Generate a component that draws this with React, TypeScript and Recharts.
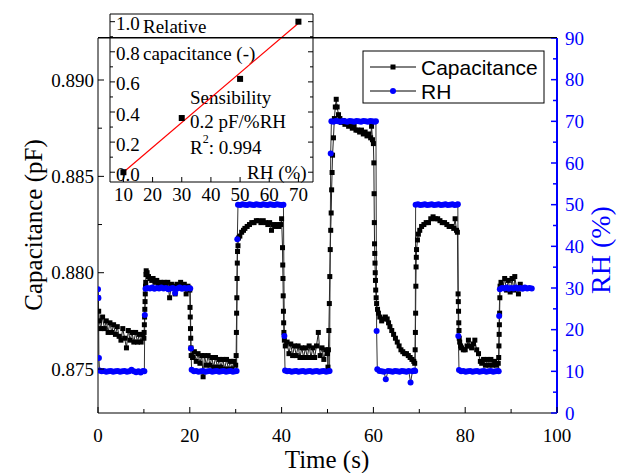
import React from "react";
import { ComposedChart, Line, Scatter, XAxis, YAxis } from "recharts";

// main chart: capacitance (pF) vs time (s)
const capTime = [
  0, 0.15, 0.3, 0.6, 1.0, 1.4, 1.8, 2.2, 2.6, 3.0, 3.4, 3.8, 4.2, 4.6, 5.0, 5.4, 5.8, 6.2, 6.6, 7.0,
  7.4, 7.8, 8.2, 8.6, 9.0, 9.4, 9.8, 10.0,
  10.05, 10.1, 10.15, 10.2, 10.25, 10.3, 10.35, 10.4, 10.45, 10.5, 10.7, 11.0, 11.3, 11.7, 12.0, 12.4,
  12.8, 13.2, 13.6, 14.0, 14.4, 14.8, 15.2, 15.6, 16.0, 16.4, 16.8, 17.2, 17.6, 18.0, 18.4, 18.8, 19.2,
  19.6, 19.9,
  20.0, 20.05, 20.1, 20.15, 20.2, 20.25, 20.3, 20.6, 21.0, 21.4, 21.8, 22.2, 22.6, 22.9, 23.2, 23.6,
  24.0, 24.4, 24.8, 25.2, 25.6, 26.0, 26.4, 26.8, 27.2, 27.6, 28.0, 28.4, 28.8, 29.2, 29.6, 30.0,
  30.1, 30.15, 30.2, 30.25, 30.3, 30.35, 30.4, 30.5, 30.6, 30.9, 31.3, 31.7, 32.0, 32.5, 33.0, 33.5,
  34.0, 34.5, 35.0, 35.5, 36.0, 36.5, 37.0, 37.4, 37.8, 38.2, 38.6, 39.0, 39.4, 39.8, 40.0,
  40.2, 40.25, 40.3, 40.35, 40.4, 40.45, 40.5, 40.6, 40.8, 41.2, 41.6, 42.0, 42.4, 42.8, 43.2, 43.6,
  44.0, 44.4, 44.8, 45.2, 45.6, 46.0, 46.4, 46.8, 47.2, 47.6, 48.0, 48.4, 48.8, 49.2, 49.6, 50.0,
  50.1, 50.2, 50.3, 50.4, 50.5, 50.6, 50.7, 50.8, 50.9, 51.0, 51.1, 51.3, 51.5, 51.7, 51.9, 52.1,
  52.4, 52.7, 53.0, 53.4, 53.8, 54.2, 54.6, 55.0, 55.4, 55.8, 56.2, 56.6, 57.0, 57.4, 57.8, 58.2,
  58.6, 59.0, 59.4, 59.6, 59.8, 60.0,
  60.1, 60.15, 60.2, 60.25, 60.3, 60.35, 60.4, 60.45, 60.5, 60.6, 60.7, 60.9, 61.1, 61.4, 61.8, 62.2,
  62.6, 63.0, 63.3, 63.6, 64.0, 64.4, 64.8, 65.2, 65.6, 66.0, 66.4, 66.8, 67.2, 67.6, 68.0, 68.4,
  68.8, 69.0,
  69.1, 69.15, 69.2, 69.25, 69.3, 69.35, 69.4, 69.6, 69.8, 70.1, 70.5, 71.0, 71.5, 72.0, 72.5, 73.0,
  73.5, 74.0, 74.5, 75.0, 75.5, 76.0, 76.5, 77.0, 77.5, 77.8, 78.1, 78.3,
  78.45, 78.5, 78.55, 78.6, 78.65, 78.7, 78.8, 79.0, 79.2, 79.6, 80.0, 80.4, 80.7, 81.0, 81.4, 81.8,
  82.1, 82.5, 82.9, 83.3, 83.6, 84.0, 84.4, 84.8, 85.2, 85.6, 86.0, 86.4, 86.8, 87.2,
  87.3, 87.35, 87.4, 87.45, 87.5, 87.55, 87.6, 87.8, 88.2, 88.6, 89.0, 89.4, 89.8, 90.2, 90.6, 90.8,
  91.2, 91.6, 92.0,
];
const capValue = [
  0.8787, 0.878, 0.8775, 0.8771, 0.8777, 0.8771, 0.8775, 0.8769, 0.8774, 0.8769, 0.8773, 0.8768, 0.8772,
  0.8767, 0.8765, 0.8771, 0.8766, 0.8761, 0.877, 0.8765, 0.8769, 0.8764, 0.8769, 0.8764, 0.8768,
  0.8764, 0.8768, 0.8766,
  0.8769, 0.8773, 0.8777, 0.8781, 0.8785, 0.8789, 0.8793, 0.8795, 0.8799, 0.8801, 0.88, 0.8798,
  0.8797, 0.8796, 0.8797, 0.8795, 0.8796, 0.8794, 0.8795, 0.8794, 0.8795, 0.8793, 0.8795, 0.8787,
  0.8794, 0.8793, 0.8789, 0.8794, 0.8793, 0.8795, 0.8793, 0.8794, 0.8789, 0.8793, 0.8792,
  0.8791, 0.8782, 0.8777, 0.8771, 0.8766, 0.8761, 0.8757, 0.8756, 0.8759, 0.8754, 0.8758, 0.8753,
  0.8757, 0.8746, 0.8757, 0.8752, 0.8757, 0.8752, 0.8756, 0.8751, 0.8756, 0.8751, 0.8755, 0.8751,
  0.8755, 0.875, 0.8755, 0.875, 0.8754, 0.875, 0.8754, 0.8752,
  0.8757, 0.8769, 0.8779, 0.8787, 0.8797, 0.8805, 0.8811, 0.8814, 0.8818, 0.8819, 0.8821, 0.8822,
  0.8823, 0.8824, 0.8825, 0.8826, 0.8826, 0.8827, 0.8827, 0.8826, 0.8827, 0.8826, 0.8825, 0.8826,
  0.8822, 0.8825, 0.8824, 0.8825, 0.8824, 0.8825, 0.8828,
  0.8813, 0.8804, 0.8797, 0.8788, 0.878, 0.8774, 0.8769, 0.8765, 0.8762, 0.8764, 0.8758, 0.8763,
  0.8757, 0.8762, 0.8757, 0.8762, 0.8756, 0.8761, 0.8756, 0.8761, 0.8756, 0.8762, 0.8756, 0.8761,
  0.8756, 0.8762, 0.8769, 0.8757, 0.8761, 0.8755, 0.876, 0.8758,
  0.8751, 0.876, 0.877, 0.8784, 0.8798, 0.8812, 0.8822, 0.8831, 0.8843, 0.8852, 0.8861, 0.887,
  0.888, 0.8886, 0.889, 0.8886, 0.8882, 0.888, 0.8878, 0.8879, 0.8877, 0.8878, 0.8876, 0.8877,
  0.8875, 0.8876, 0.8874, 0.8874, 0.8873, 0.8874, 0.8872, 0.8873, 0.8871, 0.8872, 0.887, 0.8876,
  0.8869, 0.8867,
  0.8857, 0.8841, 0.8826, 0.8815, 0.881, 0.8805, 0.88, 0.8796, 0.8791, 0.8787, 0.8784, 0.8781,
  0.8779, 0.8777, 0.8775, 0.8776, 0.8777, 0.8776, 0.8774, 0.8772, 0.877, 0.8768, 0.8766, 0.8764,
  0.8762, 0.876, 0.8759, 0.8758, 0.8758, 0.8757, 0.8756, 0.8755, 0.8754, 0.8753,
  0.876, 0.8769, 0.8779, 0.8793, 0.8803, 0.8808, 0.8812, 0.8817, 0.882, 0.8822, 0.8824, 0.8825,
  0.8826, 0.8826, 0.8828, 0.8829, 0.8828, 0.8828, 0.8827, 0.8826, 0.8826, 0.8825, 0.8824, 0.8824,
  0.8823, 0.8828, 0.8822, 0.8821,
  0.8789, 0.8785, 0.878, 0.8774, 0.877, 0.8766, 0.8764, 0.8762, 0.8761, 0.876, 0.876, 0.8762,
  0.8765, 0.8762, 0.8761, 0.8763, 0.8765, 0.876, 0.8758, 0.8754, 0.8753, 0.8755, 0.8752, 0.8755,
  0.8752, 0.8755, 0.8752, 0.8754, 0.8752, 0.8753,
  0.8756, 0.8762, 0.8768, 0.8773, 0.8779, 0.8787, 0.8793, 0.8795, 0.8792, 0.8797, 0.8791, 0.8796,
  0.879, 0.8797, 0.8791, 0.8798, 0.8792, 0.8789, 0.8794,
];

// main chart: relative humidity (%) vs time (s)
const rhTime = [
  0, 0.1, 0.2, 0.35, 0.8, 1.3, 1.8, 2.3, 2.8, 3.3, 3.8, 4.3, 4.8, 5.3, 5.8, 6.3, 6.8, 7.3, 7.8, 8.3,
  8.8, 9.3, 9.8, 10.1,
  10.2, 10.35, 10.8, 11.3, 11.8, 12.3, 12.8, 13.3, 13.8, 14.3, 14.8, 15.3, 15.8, 16.3, 16.8, 17.3,
  17.8, 18.3, 18.8, 19.3, 19.8, 20.1,
  20.25, 20.4, 20.9, 21.4, 21.9, 22.4, 22.9, 23.4, 23.9, 24.4, 24.9, 25.4, 25.9, 26.4, 26.9, 27.4,
  27.9, 28.4, 28.9, 29.4, 29.9, 30.2,
  30.35, 30.5, 31.0, 31.5, 32.0, 32.5, 33.0, 33.5, 34.0, 34.5, 35.0, 35.5, 36.0, 36.5, 37.0, 37.5,
  38.0, 38.5, 39.0, 39.5, 40.0, 40.4,
  40.6, 40.75, 41.2, 41.7, 42.2, 42.7, 43.2, 43.7, 44.2, 44.7, 45.2, 45.7, 46.2, 46.7, 47.2, 47.7,
  48.2, 48.7, 49.2, 49.7, 50.2, 50.45,
  50.7, 50.85, 51.3, 51.8, 52.3, 52.8, 53.3, 53.8, 54.3, 54.8, 55.3, 55.8, 56.3, 56.8, 57.3, 57.8,
  58.3, 58.8, 59.3, 59.8, 60.3, 60.55,
  60.7, 60.85, 61.3, 61.8, 62.3, 62.7, 63.2, 63.7, 64.2, 64.7, 65.2, 65.7, 66.2, 66.7, 67.2, 67.7,
  68.1, 68.5, 68.9, 69.1,
  69.2, 69.7, 70.2, 70.7, 71.2, 71.7, 72.2, 72.7, 73.2, 73.7, 74.2, 74.7, 75.2, 75.7, 76.2, 76.7,
  77.2, 77.7, 78.2, 78.4,
  78.5, 78.65, 79.1, 79.6, 80.1, 80.6, 81.1, 81.6, 82.1, 82.6, 83.1, 83.6, 84.1, 84.6, 85.1, 85.6,
  86.1, 86.6, 87.1, 87.3,
  87.4, 87.55, 88.0, 88.5, 89.0, 89.5, 90.0, 90.5, 91.0, 91.5, 92.0, 92.5, 93.0, 93.5, 94.0, 94.5,
];
const rhValue = [
  29.7, 27.6, 13.2, 10.2, 10.0, 10.1, 9.9, 10.0, 10.1, 9.9, 10.0, 10.1, 9.9, 10.0, 10.1, 9.9, 10.0,
  10.4, 10.0, 9.8, 10.0, 9.7, 10.1, 10.0,
  23.5, 29.8, 30.0, 29.9, 30.1, 29.8, 30.0, 29.9, 30.1, 29.9, 30.0, 29.7, 29.9, 30.0, 28.8, 29.9,
  30.1, 29.8, 30.0, 29.9, 30.0, 29.9,
  15.5, 10.4, 10.0, 10.1, 9.9, 10.0, 10.1, 9.9, 10.0, 10.1, 9.9, 10.0, 10.1, 9.9, 10.0, 10.1, 9.9,
  10.0, 10.1, 9.9, 10.0, 10.1,
  41.7, 50.0, 49.9, 50.1, 50.0, 49.9, 50.1, 50.0, 49.9, 50.1, 50.0, 49.9, 50.1, 50.0, 49.9, 50.1,
  50.0, 49.9, 50.1, 50.0, 49.9, 50.0,
  18.5, 10.2, 10.0, 10.1, 9.9, 10.0, 10.1, 9.9, 10.0, 10.1, 9.9, 10.0, 10.1, 9.9, 10.0, 10.1, 9.9,
  10.0, 10.1, 9.9, 10.0, 10.1,
  62.3, 70.0, 69.9, 70.1, 70.0, 69.9, 70.1, 70.0, 69.9, 70.1, 70.0, 69.9, 70.1, 70.0, 69.9, 70.1,
  70.0, 69.9, 70.1, 70.0, 69.9, 70.0,
  19.7, 10.5, 10.1, 10.0, 9.9, 8.1, 10.1, 10.0, 9.9, 10.1, 10.0, 9.9, 10.1, 10.0, 9.9, 10.1, 7.3,
  10.0, 10.2, 10.1,
  50.0, 50.1, 49.9, 50.0, 50.1, 49.9, 50.0, 50.1, 49.9, 50.0, 50.1, 49.9, 50.0, 50.1, 49.9, 50.0,
  50.1, 49.9, 50.0, 50.1,
  18.5, 10.3, 10.0, 10.1, 9.9, 10.0, 10.1, 9.9, 10.0, 10.1, 9.9, 10.0, 10.1, 9.9, 10.0, 10.1, 9.9,
  10.0, 10.1, 10.0,
  23.3, 29.7, 30.0, 29.9, 30.1, 29.8, 30.0, 29.9, 30.1, 29.9, 30.0, 29.8, 30.1, 29.9, 30.0, 29.9,
];

const timeTicks = [0, 10, 20, 30, 40, 50, 60, 70, 80, 90, 100];
const timeLabels = [0, 20, 40, 60, 80, 100];
const capTicks = [0.875, 0.8775, 0.88, 0.8825, 0.885, 0.8875, 0.89];
const capLabels = [0.875, 0.88, 0.885, 0.89];
const rhTicks = [0, 5, 10, 15, 20, 25, 30, 35, 40, 45, 50, 55, 60, 65, 70, 75, 80, 85, 90];
const rhLabels = [0, 10, 20, 30, 40, 50, 60, 70, 80, 90];

// inset: relative capacitance vs RH
const sensRh = [10, 30, 50, 70];
const sensRel = [0.0, 0.36, 0.62, 1.0];
const fitRh = [10, 70];
const fitRel = [0.0, 0.99];
const insetYTicks = [0, 0.1, 0.2, 0.3, 0.4, 0.5, 0.6, 0.7, 0.8, 0.9, 1.0];
const insetYLabels = [0, 0.2, 0.4, 0.6, 0.8, 1.0];
const insetXTicks = [10, 20, 30, 40, 50, 60, 70];

const serif = "'Liberation Serif', 'Times New Roman', serif";
const sans = "'Liberation Sans', Arial, sans-serif";
const BLUE = "#0000ff";

const has = (list: number[], v: number) => list.some((l) => Math.abs(l - v) < 1e-7);

const BottomTick = (p: any) => {
  const v = p.payload.value;
  const major = has(timeLabels, v);
  return (
    <g>
      <line x1={p.x} x2={p.x} y1={p.y} y2={p.y - (major ? 6 : 4)} stroke="#000" />
      {major && (
        <text x={p.x} y={p.y + 22} textAnchor="middle" dominantBaseline="central" fontSize={19} fontFamily={serif} fill="#000">
          {v}
        </text>
      )}
    </g>
  );
};

const LeftTick = (p: any) => {
  const v = p.payload.value;
  const major = has(capLabels, v);
  return (
    <g>
      <line x1={p.x} x2={p.x + (major ? 6 : 4)} y1={p.y} y2={p.y} stroke="#000" />
      {major && (
        <text x={p.x - 4} y={p.y} textAnchor="end" dominantBaseline="central" fontSize={19} fontFamily={serif} fill="#000">
          {v.toFixed(3)}
        </text>
      )}
    </g>
  );
};

const RightTick = (p: any) => {
  const v = p.payload.value;
  const major = has(rhLabels, v);
  return (
    <g>
      <line x1={p.x} x2={p.x - (major ? 6 : 4)} y1={p.y} y2={p.y} stroke={BLUE} strokeWidth={1.5} />
      {major && (
        <text x={p.x + 8} y={p.y} textAnchor="start" dominantBaseline="central" fontSize={19} fontFamily={serif} fill={BLUE}>
          {v}
        </text>
      )}
    </g>
  );
};

const InsetLeftTick = (p: any) => {
  const v = p.payload.value;
  const major = has(insetYLabels, v);
  return (
    <g>
      <line x1={p.x} x2={p.x + (major ? 5 : 3)} y1={p.y} y2={p.y} stroke="#000" />
      {major && (
        <text x={p.x + 6} y={p.y + 2} textAnchor="start" dominantBaseline="central" fontSize={19} fontFamily={serif} fill="#000">
          {v.toFixed(1)}
        </text>
      )}
    </g>
  );
};

const InsetRightTick = (p: any) => {
  const v = p.payload.value;
  const major = has(insetYLabels, v);
  return <line x1={p.x} x2={p.x - (major ? 5 : 3)} y1={p.y} y2={p.y} stroke="#000" />;
};

const InsetBottomTick = (p: any) => (
  <g>
    <line x1={p.x} x2={p.x} y1={p.y} y2={p.y - 5} stroke="#000" />
    <text x={p.x} y={p.y + 12} textAnchor="middle" dominantBaseline="central" fontSize={19} fontFamily={serif} fill="#000">
      {p.payload.value}
    </text>
  </g>
);

const SquareDot = (p: any) => (
  <rect key={p.index} x={p.cx - 2.5} y={p.cy - 2.5} width={5} height={5} fill="#000" />
);

export default function App() {
  const capData = capTime.map((t, i) => ({ t, c: capValue[i] }));
  const rhData = rhTime.map((t, i) => ({ t, rh: rhValue[i] }));
  const sensData = sensRh.map((x, i) => ({ x, y: sensRel[i] }));
  const fitData = fitRh.map((x, i) => ({ x, y: fitRel[i] }));

  return (
    <div style={{ position: "absolute", left: 0, top: 0, width: 618, height: 473, background: "#fff" }}>
      <div style={{ position: "absolute", left: 0, top: 0 }}>
        <ComposedChart width={618} height={473} margin={{ top: 37, right: 11, bottom: 0, left: 0 }}>
          <XAxis
            xAxisId="b"
            type="number"
            dataKey="t"
            domain={[0, 100]}
            ticks={timeTicks}
            interval={0}
            height={60}
            tickSize={0}
            tickMargin={0}
            tickLine={false}
            tick={(p: any) => <BottomTick {...p} />}
            axisLine={{ stroke: "#000" }}
            allowDataOverflow
          />
          <XAxis
            xAxisId="top"
            orientation="top"
            type="number"
            dataKey="t"
            domain={[0, 100]}
            height={1}
            tick={false}
            tickLine={false}
            axisLine={{ stroke: "#000" }}
            allowDataOverflow
          />
          <YAxis
            yAxisId="c"
            type="number"
            dataKey="c"
            domain={[0.87272, 0.89218]}
            ticks={capTicks}
            interval={0}
            width={98}
            tickSize={0}
            tickMargin={0}
            tickLine={false}
            tick={(p: any) => <LeftTick {...p} />}
            axisLine={{ stroke: "#000" }}
            allowDataOverflow
          />
          <YAxis
            yAxisId="rh"
            orientation="right"
            type="number"
            dataKey="rh"
            domain={[0, 90]}
            ticks={rhTicks}
            interval={0}
            width={50}
            tickSize={0}
            tickMargin={0}
            tickLine={false}
            tick={(p: any) => <RightTick {...p} />}
            axisLine={{ stroke: BLUE, strokeWidth: 2 }}
            allowDataOverflow
          />
          <Line
            xAxisId="b"
            yAxisId="c"
            data={capData}
            dataKey="c"
            type="linear"
            stroke="#222"
            strokeWidth={1}
            dot={SquareDot}
            activeDot={false}
            isAnimationActive={false}
          />
          <Line
            xAxisId="top"
            yAxisId="rh"
            data={rhData}
            dataKey="rh"
            type="linear"
            stroke="#333"
            strokeWidth={1}
            dot={{ r: 3, fill: BLUE, stroke: "none", strokeWidth: 0 }}
            activeDot={false}
            isAnimationActive={false}
          />
          <text x={33} y={225} transform="rotate(-90 33 225)" textAnchor="middle" dominantBaseline="central" fontSize={25} fontFamily={serif} fill="#000">
            Capacitance (pF)
          </text>
          <text x={600} y={250} transform="rotate(-90 600 250)" textAnchor="middle" dominantBaseline="central" fontSize={28} fontFamily={serif} fill={BLUE}>
            RH (%)
          </text>
          <text x={327} y={459} textAnchor="middle" dominantBaseline="central" fontSize={25} fontFamily={serif} fill="#000">
            Time (s)
          </text>
          <g>
            <rect x={363} y={51} width={181} height={52} fill="#fff" stroke="#000" strokeWidth={1} />
            <line x1={370} x2={416} y1={67} y2={67} stroke="#000" />
            <rect x={390.5} y={64.5} width={5} height={5} fill="#000" />
            <text x={421} y={67} dominantBaseline="central" fontSize={21} fontFamily={sans} fill="#000">
              Capacitance
            </text>
            <line x1={370} x2={416} y1={91} y2={91} stroke="#000" />
            <circle cx={393} cy={91} r={3} fill={BLUE} />
            <text x={421} y={91} dominantBaseline="central" fontSize={21} fontFamily={sans} fill="#000">
              RH
            </text>
          </g>
        </ComposedChart>
      </div>
      <div style={{ position: "absolute", left: 0, top: 0, pointerEvents: "none" }}>
        <ComposedChart width={618} height={473} margin={{ top: 13, right: 304, bottom: 261, left: 109 }}>
          <XAxis
            xAxisId="b"
            type="number"
            dataKey="x"
            domain={[5.4, 75]}
            ticks={insetXTicks}
            interval={0}
            height={30}
            tickSize={0}
            tickMargin={0}
            tickLine={false}
            tick={(p: any) => <InsetBottomTick {...p} />}
            axisLine={{ stroke: "#000" }}
            allowDataOverflow
          />
          <XAxis
            xAxisId="t"
            orientation="top"
            type="number"
            dataKey="x"
            domain={[5.4, 75]}
            height={1}
            tick={false}
            tickLine={false}
            axisLine={{ stroke: "#000" }}
            allowDataOverflow
          />
          <YAxis
            yAxisId="l"
            type="number"
            domain={[-0.065, 1.051]}
            ticks={insetYTicks}
            interval={0}
            width={1}
            tickSize={0}
            tickMargin={0}
            tickLine={false}
            tick={(p: any) => <InsetLeftTick {...p} />}
            axisLine={{ stroke: "#000" }}
            allowDataOverflow
          />
          <YAxis
            yAxisId="r"
            orientation="right"
            type="number"
            domain={[-0.065, 1.051]}
            ticks={insetYTicks}
            interval={0}
            width={1}
            tickSize={0}
            tickMargin={0}
            tickLine={false}
            tick={(p: any) => <InsetRightTick {...p} />}
            axisLine={{ stroke: "#000" }}
            allowDataOverflow
          />
          <Line
            xAxisId="t"
            yAxisId="r"
            data={fitData}
            dataKey="y"
            type="linear"
            stroke="#ff0000"
            strokeWidth={1.2}
            dot={false}
            activeDot={false}
            isAnimationActive={false}
          />
          <Scatter
            xAxisId="b"
            yAxisId="l"
            data={sensData}
            dataKey="y"
            fill="#000"
            shape={(p: any) => <rect x={p.cx - 3} y={p.cy - 3} width={6} height={6} fill="#000" />}
            isAnimationActive={false}
          />
          <g fontFamily={serif} fontSize={19} fill="#000">
            <text x={143} y={26} dominantBaseline="central">Relative</text>
            <text x={143} y={53} dominantBaseline="central">capacitance (-)</text>
            <text x={190} y={97} dominantBaseline="central">Sensibility</text>
            <text x={190} y={121} dominantBaseline="central">0.2 pF/%RH</text>
            <text x={190} y={147} dominantBaseline="central">
              R<tspan dy={-8} fontSize={12}>2</tspan>
              <tspan dy={8}>: 0.994</tspan>
            </text>
            <text x={247} y={172} dominantBaseline="central">RH (%)</text>
          </g>
        </ComposedChart>
      </div>
      {/* top edge of the main plot frame, drawn above both charts */}
      <div style={{ position: "absolute", left: 98, top: 37, width: 459, height: 1, background: "#000", pointerEvents: "none" }} />
    </div>
  );
}
